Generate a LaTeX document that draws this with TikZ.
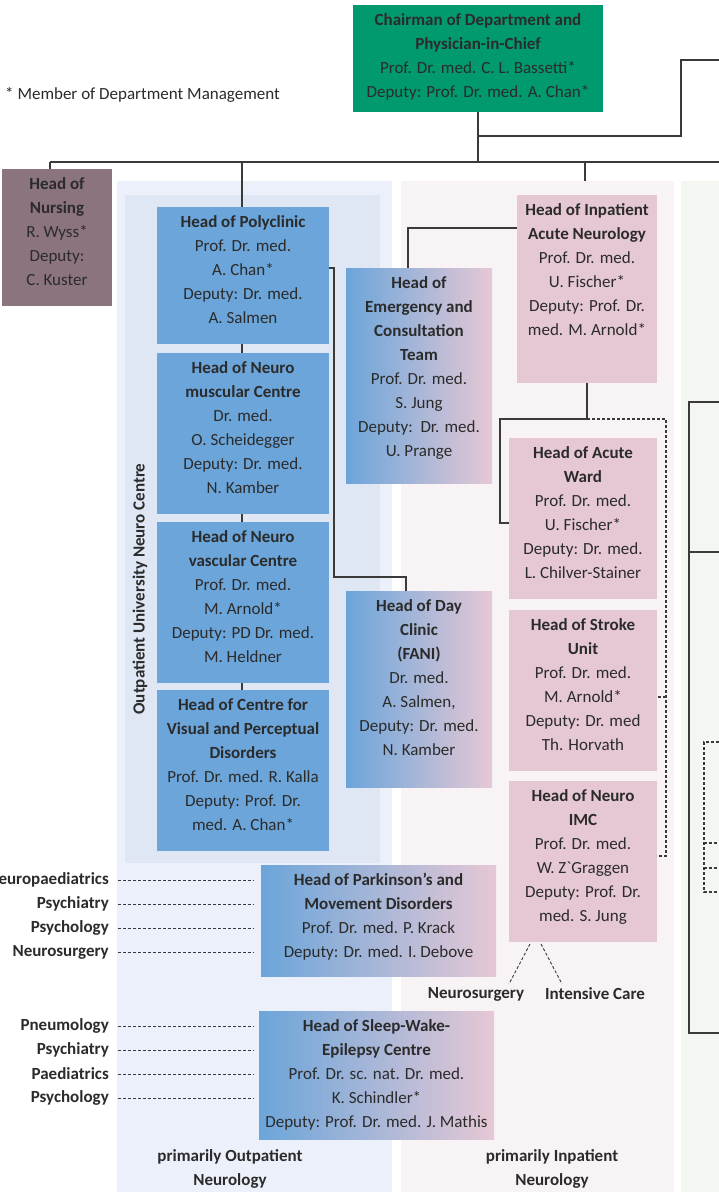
\documentclass[tikz,border=0pt]{standalone}
\usepackage{fontspec}
\setmainfont{Carlito}
\definecolor{txt}{HTML}{2B2B2B}
\definecolor{ln}{HTML}{3A3A3A}
\definecolor{chairc}{HTML}{009A6E}
\definecolor{nursec}{HTML}{8B7480}
\definecolor{bluec}{HTML}{6BA5DA}
\definecolor{pinkc}{HTML}{E6C8D5}
\definecolor{outerc}{HTML}{ECF0FA}
\definecolor{innerc}{HTML}{DFE7F5}
\definecolor{inpc}{HTML}{F8F4F6}
\definecolor{grc}{HTML}{F4F6F2}
\newcommand{\bx}[3]{\parbox[c][#2pt][t]{#1pt}{\centering\rule{0pt}{20pt}#3\par}}
\tikzset{
  ob/.style={inner sep=0pt, outer sep=0pt, anchor=north west, text=txt, font=\fontsize{17}{24}\selectfont},
  bluebox/.style={ob, fill=bluec},
  pinkbox/.style={ob, fill=pinkc},
  gradbox/.style={ob, left color=bluec, right color=pinkc},
  region/.style={inner sep=0pt, outer sep=0pt, anchor=north west, draw=none},
  lab/.style={inner sep=0pt, text=txt, font=\fontsize{17}{24}\selectfont\bfseries},
  conn/.style={draw=ln, line width=1.2pt},
  dconn/.style={draw=ln, line width=1.1pt, dash pattern=on 3pt off 2pt},
}
\begin{document}
\begin{tikzpicture}[x=1pt,y=-1pt]
\useasboundingbox (0,0) rectangle (719,1192);
\fill[white] (0,0) rectangle (719,1192);
% regions
\node[region, fill=outerc, minimum width=275pt, minimum height=1011pt] (outreg) at (117,181) {};
\node[region, fill=innerc, minimum width=255pt, minimum height=668pt] (inreg0) at (125,195) {};
\node[region, fill=inpc, minimum width=273pt, minimum height=1011pt] (inpreg) at (401,181) {};
\node[region, fill=grc, minimum width=38pt, minimum height=1011pt] (grreg) at (681,181) {};

% note
\node[anchor=west, inner sep=0pt, text=txt, font=\fontsize{17}{24}\selectfont] (note) at (5,95) {* Member of Department Management};

% boxes
\node[ob, fill=chairc] (chair) at (353,5) {\bx{250}{107}{\textbf{Chairman of Department and}\\\textbf{Physician-in-Chief}\\Prof. Dr. med. C. L. Bassetti*\\Deputy: Prof. Dr. med. A. Chan*}};
\node[ob, fill=nursec] (nurse) at (2,169) {\bx{110}{137}{\textbf{Head of}\\\textbf{Nursing}\\R. Wyss*\\Deputy:\\C. Kuster}};
\node[bluebox] (poly) at (157,207) {\bx{172}{137}{\textbf{Head of Polyclinic}\\Prof. Dr. med.\\A. Chan*\\Deputy: Dr. med.\\A. Salmen}};
\node[bluebox] (musc) at (157,353) {\bx{172}{161}{\textbf{Head of Neuro}\\\textbf{muscular Centre}\\Dr. med.\\O. Scheidegger\\Deputy: Dr. med.\\N. Kamber}};
\node[bluebox] (vasc) at (157,522) {\bx{172}{161}{\textbf{Head of Neuro}\\\textbf{vascular Centre}\\Prof. Dr. med.\\M. Arnold*\\Deputy: PD Dr. med.\\M. Heldner}};
\node[bluebox] (vis) at (157,690) {\bx{172}{161}{\textbf{Head of Centre for}\\\textbf{Visual and Perceptual}\\\textbf{Disorders}\\Prof. Dr. med. R. Kalla\\Deputy: Prof. Dr.\\med. A. Chan*}};
\node[gradbox] (em) at (346,268) {\bx{146}{215}{\textbf{Head of}\\\textbf{Emergency and}\\\textbf{Consultation}\\\textbf{Team}\\Prof. Dr. med.\\S. Jung\\Deputy:\ \ Dr. med.\\U. Prange}};
\node[gradbox] (day) at (346,591) {\bx{146}{196}{\textbf{Head of Day}\\\textbf{Clinic}\\\textbf{(FANI)}\\Dr. med.\\A. Salmen,\\Deputy: Dr. med.\\N. Kamber}};
\node[pinkbox] (inp) at (517,195) {\bx{140}{188}{\textbf{Head of Inpatient}\\\textbf{Acute Neurology}\\Prof. Dr. med.\\U. Fischer*\\Deputy: Prof. Dr.\\med. M. Arnold*}};
\node[pinkbox] (acute) at (509,438) {\bx{148}{161}{\textbf{Head of Acute}\\\textbf{Ward}\\Prof. Dr. med.\\U. Fischer*\\Deputy: Dr. med.\\L. Chilver-Stainer}};
\node[pinkbox] (stroke) at (509,610) {\bx{148}{161}{\textbf{Head of Stroke}\\\textbf{Unit}\\Prof. Dr. med.\\M. Arnold*\\Deputy: Dr. med\\Th. Horvath}};
\node[pinkbox] (imc) at (509,781) {\bx{148}{161}{\textbf{Head of Neuro}\\\textbf{IMC}\\Prof. Dr. med.\\W. Z\textasciigrave Graggen\\Deputy: Prof. Dr.\\med. S. Jung}};
\node[gradbox] (park) at (261,865) {\bx{235}{111}{\textbf{Head of Parkinson’s and}\\\textbf{Movement Disorders}\\Prof. Dr. med. P. Krack\\Deputy: Dr. med. I. Debove}};
\node[gradbox] (sleep) at (259,1011) {\bx{235}{128}{\textbf{Head of Sleep-Wake-}\\\textbf{Epilepsy Centre}\\Prof. Dr. sc. nat. Dr. med.\\K. Schindler*\\Deputy: Prof. Dr. med. J. Mathis}};

% labels
\node[lab, rotate=90] (vlab) at (140,589) {Outpatient University Neuro Centre};
\node[lab, anchor=east] (a1) at (109,880) {Neuropaediatrics};
\node[lab, anchor=east] (a2) at (109,904) {Psychiatry};
\node[lab, anchor=east] (a3) at (109,928) {Psychology};
\node[lab, anchor=east] (a4) at (109,952) {Neurosurgery};
\node[lab, anchor=east] (b1) at (109,1026) {Pneumology};
\node[lab, anchor=east] (b2) at (109,1050) {Psychiatry};
\node[lab, anchor=east] (b3) at (109,1074) {Paediatrics};
\node[lab, anchor=east] (b4) at (109,1098) {Psychology};
\node[lab] (ns) at (476,994) {Neurosurgery};
\node[lab] (ic) at (595,994) {Intensive Care};
\node[lab, align=center] (bo) at (230,1169) {primarily Outpatient\\Neurology};
\node[lab, align=center] (bi) at (552,1169) {primarily Inpatient\\Neurology};

% solid connectors
\draw[conn] (50,162) -- (719,162);
\draw[conn] (chair.south) -- (chair.south |- 0,162);
\draw[conn] (chair.south |- 0,136) -- (681,136) -- (681,60) -- (719,60);
\draw[conn] (50,162) -- (50,0 |- nurse.north);
\draw[conn] (242,162) -- (242,0 |- poly.north);
\draw[conn] (585,162) -- (585,0 |- inpreg.north);
\draw[conn] (242,0 |- poly.south) -- (242,0 |- musc.north);
\draw[conn] (242,0 |- musc.south) -- (242,0 |- vasc.north);
\draw[conn] (242,0 |- vasc.south) -- (242,0 |- vis.north);
\draw[conn] (poly.east |- em.north) -- (334,268) -- (334,577) -- (406,577) -- (406,0 |- day.north);
\draw[conn] (408,0 |- em.north) -- (408,228) -- (inp.west |- 0,228);
\draw[conn] (587,0 |- inp.south) -- (587,419) -- (500,419) -- (500,523) -- (acute.west |- 0,523);
\draw[dconn] (587,419) -- (666,419) -- (666,856) -- (imc.east |- 0,856);
\draw[dconn] (666,697) -- (stroke.east |- 0,697);
\draw[dconn, line width=0.9pt] (530,944) -- (509,984);
\draw[dconn, line width=0.9pt] (541,944) -- (562,984);
% right region
\draw[conn] (719,402) -- (689,402) -- (689,1033) -- (719,1033);
\draw[conn] (689,552) -- (719,552);
\draw[dconn] (719,742) -- (704,742) -- (704,892) -- (719,892);
\draw[dconn] (704,843) -- (719,843);
\draw[dconn] (704,868) -- (719,868);
% dashed label lines
\foreach \n/\y in {a1/880,a2/904,a3/928,a4/952,b1/1026,b2/1050,b3/1074,b4/1098}{
  \draw[dconn, line width=0.9pt] (118,\y) -- (254,\y);
}
\end{tikzpicture}
\end{document}
